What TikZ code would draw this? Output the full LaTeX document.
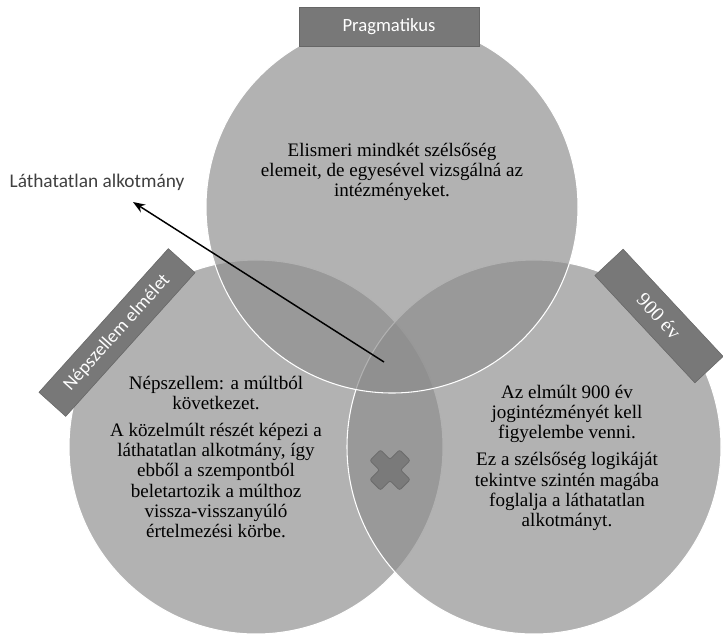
\documentclass[tikz,border=0pt]{standalone}
\usepackage{fontspec}
\setmainfont{Liberation Serif}
\newfontfamily\tagfont{Carlito}
\usetikzlibrary{arrows.meta, positioning, calc}

\definecolor{vennGray}{gray}{0.55}
\definecolor{tagGray}{gray}{0.47}
\definecolor{crossGray}{gray}{0.48}

\begin{document}
\begin{tikzpicture}[x=0.75pt, y=-0.75pt,
    venn/.style={circle, fill=vennGray, fill opacity=0.67, draw=white, line width=0.8pt, inner sep=0pt, outer sep=0pt, minimum size=#1},
    tag/.style={rectangle, fill=tagGray, draw=black!60, line width=0.4pt, text=white, font=\tagfont\fontsize{14}{16}\selectfont, inner sep=0pt},
    body/.style={align=center, font=\fontsize{14.3}{15.2}\selectfont, inner sep=0pt},
    arrow/.style={-{Stealth[length=3.2mm, width=2.4mm]}, line width=1.1pt}
]
\useasboundingbox (0,0) rectangle (723,633);

% the three sets
\node[venn=280.5pt] (past) at (256,447) {};
\node[venn=280.5pt] (years) at (534,447) {};
\node[venn=279pt] (pragma) at (392,207) {};

% headings
\node[tag, minimum width=135pt, minimum height=29pt] (pragmaTag) at (389,26.5) {Pragmatikus};
\node[tag, minimum width=145pt, minimum height=27pt, rotate=48] (pastTag) at (117,332.5) {Népszellem elmélet};
\node[tag, minimum width=110pt, minimum height=29pt, rotate=-47, font=\fontsize{15}{17}\selectfont] (yearsTag) at (659,316) {900 év};

% texts
\node[body] (pragmaText) at (392,172) {Elismeri mindkét szélsőség\\ elemeit, de egyesével vizsgálná az\\ intézményeket.};
\node[body] (pastText) at (216,457) {Népszellem: a múltból\\ következet.\\[5pt] A közelmúlt részét képezi a\\ láthatatlan alkotmány, így\\ ebből a szempontból\\ beletartozik a múlthoz\\ vissza-visszanyúló\\ értelmezési körbe.};
\node[body] (yearsText) at (567,458) {Az elmúlt 900 év\\ jogintézményét kell\\ figyelembe venni.\\[5pt] Ez a szélsőség logikáját\\ tekintve szintén magába\\ foglalja a láthatatlan\\ alkotmányt.};

% invisible constitution
\node[text=black!75, font=\tagfont\fontsize{14.5}{16}\selectfont] (hidden) at (97,182) {Láthatatlan alkotmány};
\coordinate (tail) at (384,362);
\coordinate (tip) at (133,202);
\draw[arrow] (tail) -- (tip);

% cross in the middle
\draw[fill=crossGray, draw=black!58, line width=0.6pt, rounded corners=1.5pt, rotate around={45:(390,470)}]
  (382.5,449) -- (397.5,449) -- (397.5,462.5) -- (411,462.5) -- (411,477.5) -- (397.5,477.5)
  -- (397.5,491) -- (382.5,491) -- (382.5,477.5) -- (369,477.5) -- (369,462.5) -- (382.5,462.5) -- cycle;
\end{tikzpicture}
\end{document}
